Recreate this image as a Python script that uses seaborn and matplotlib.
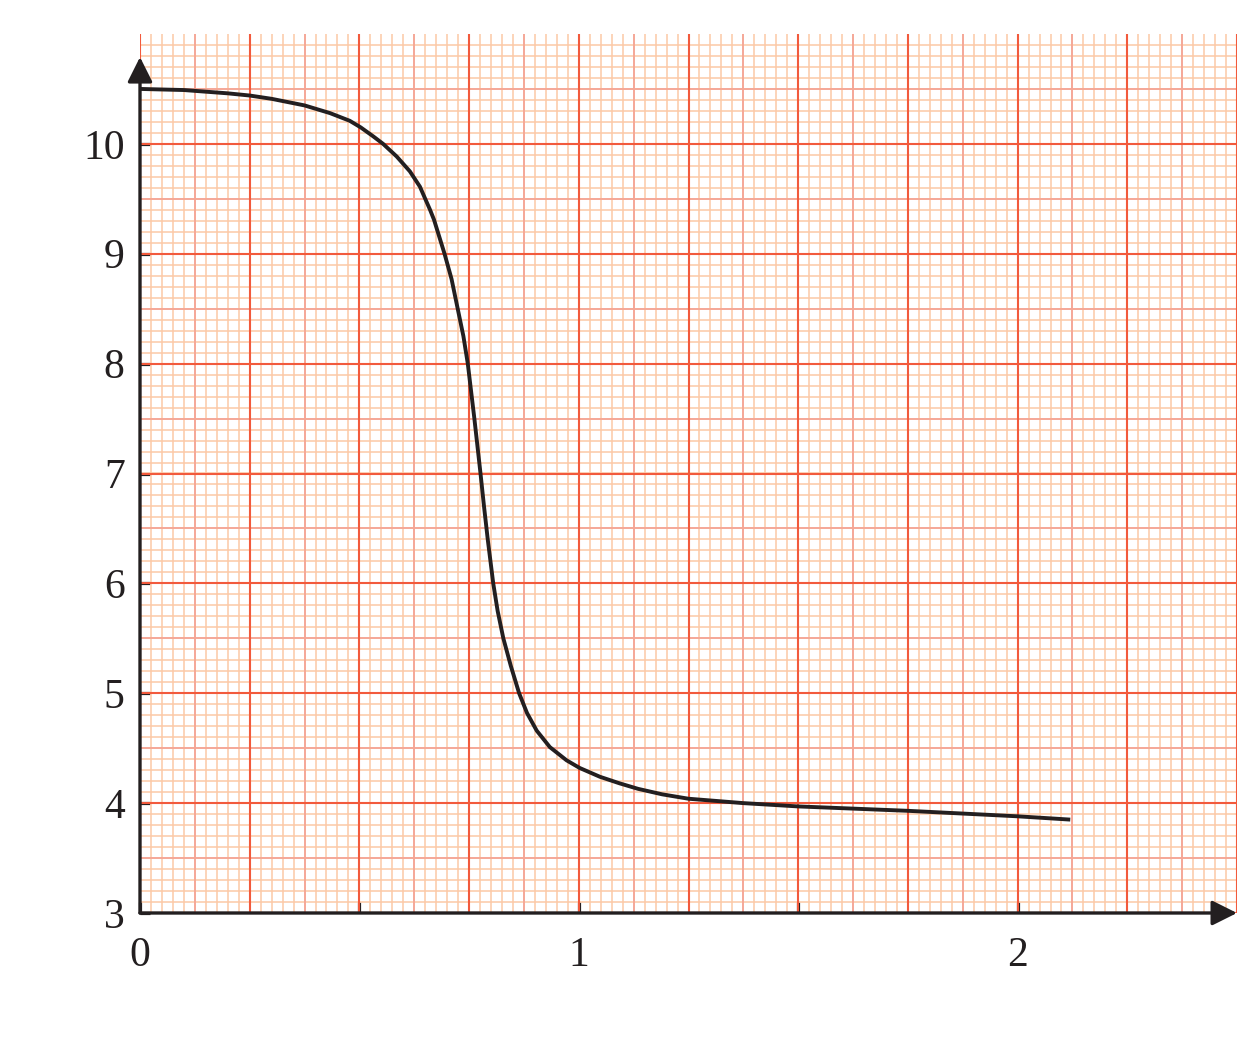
import numpy as np
import pandas as pd
import matplotlib
matplotlib.use("Agg")
import matplotlib.pyplot as plt
import seaborn as sns

# ---- data ----
curve_x = [0.00, 0.10, 0.20, 0.25, 0.30, 0.375, 0.433, 0.478, 0.503, 0.531,
           0.554, 0.585, 0.615, 0.638, 0.650, 0.661, 0.670, 0.694, 0.710, 0.724,
           0.737, 0.747, 0.762, 0.776, 0.784, 0.7925, 0.805, 0.815, 0.828, 0.845,
           0.864, 0.882, 0.904, 0.934, 0.972, 1.002, 1.048, 1.093, 1.135, 1.19,
           1.25, 1.375, 1.50, 1.75, 2.00, 2.12]
curve_y = [10.50, 10.49, 10.46, 10.44, 10.41, 10.35, 10.28, 10.21, 10.15, 10.07,
           10.00, 9.885, 9.75, 9.61, 9.50, 9.40, 9.31, 9.00, 8.77, 8.50,
           8.25, 8.00, 7.50, 7.00, 6.70, 6.40, 6.00, 5.75, 5.50, 5.25,
           5.00, 4.82, 4.66, 4.51, 4.39, 4.32, 4.24, 4.18, 4.13, 4.08,
           4.04, 4.00, 3.97, 3.93, 3.88, 3.85]
x_ticks = [0, 0.5, 1, 1.5, 2]
x_tick_labels = ["0", "", "1", "", "2"]
y_ticks = [3, 4, 5, 6, 7, 8, 9, 10]
y_tick_labels = ["3", "4", "5", "6", "7", "8", "9", "10"]

df = pd.DataFrame({"x": curve_x, "y": curve_y})

sns.set_theme(style="white")
plt.rcParams["font.family"] = ["Liberation Serif", "DejaVu Serif"]

fig = plt.figure(figsize=(12.59, 10.44), dpi=100)
fig.patch.set_facecolor("white")
ax = fig.add_axes([140 / 1259, 1 - 913 / 1044, (1237 - 140) / 1259, (913 - 34) / 1044])
ax.set_facecolor("white")

X0, X1, Y0, Y1 = 0.0, 2.5, 3.0, 11.0
ax.set_xlim(X0, X1)
ax.set_ylim(Y0, Y1)

# ---- graph paper ----
minor_c = "#fcc9a6"
mid_c = "#f5a596"
major_c = "#f25a3c"
xs_minor = np.arange(0, 2.5001, 0.025)
ys_minor = np.arange(3, 10.9001, 0.1)
ax.vlines(xs_minor, Y0, Y1, colors=minor_c, lw=1.1, zorder=1)
ax.hlines(ys_minor, X0, X1, colors=minor_c, lw=1.1, zorder=1)
ax.vlines(np.arange(0.125, 2.5, 0.25), Y0, Y1, colors=mid_c, lw=1.3, zorder=2)
ax.hlines(np.arange(3.5, 10.9, 1.0), X0, X1, colors=mid_c, lw=1.3, zorder=2)
ax.vlines(np.arange(0, 2.5001, 0.25), Y0, Y1, colors=major_c, lw=1.5, zorder=3)
ax.hlines(np.arange(3, 10.001, 1.0), X0, X1, colors=major_c, lw=1.5, zorder=3)

# ---- curve ----
sns.lineplot(data=df, x="x", y="y", ax=ax, color="#231f20", lw=2.8,
             sort=False, zorder=6)
for ln in ax.get_lines():
    ln.set_solid_joinstyle("round")
    ln.set_solid_capstyle("butt")

# ---- axes with arrows ----
ax_c = "#231f20"
ax.annotate("", xy=(0, 10.79), xytext=(0, 3),
            arrowprops=dict(arrowstyle="-|>", lw=2.4, color=ax_c,
                            mutation_scale=38, shrinkA=0, shrinkB=0),
            annotation_clip=False, zorder=8)
ax.annotate("", xy=(2.5, 3), xytext=(0, 3),
            arrowprops=dict(arrowstyle="-|>", lw=2.4, color=ax_c,
                            mutation_scale=38, shrinkA=0, shrinkB=0),
            annotation_clip=False, zorder=8)

for s in ax.spines.values():
    s.set_visible(False)

ax.set_xticks(x_ticks)
ax.set_xticklabels(x_tick_labels)
ax.set_yticks(y_ticks)
ax.set_yticklabels(y_tick_labels)
ax.tick_params(axis="x", direction="in", length=8, width=2.3, color=ax_c,
               pad=17, labelsize=30, labelcolor=ax_c, bottom=True)
ax.tick_params(axis="y", direction="in", length=7, width=2.3, color=ax_c,
               pad=11, labelsize=30, labelcolor=ax_c, left=True)
for t in ax.get_xticklines() + ax.get_yticklines():
    t.set_zorder(9)
ax.set_xlabel("")
ax.set_ylabel("")
ax.grid(False)

fig.savefig("out.png", dpi=100, facecolor="white")
